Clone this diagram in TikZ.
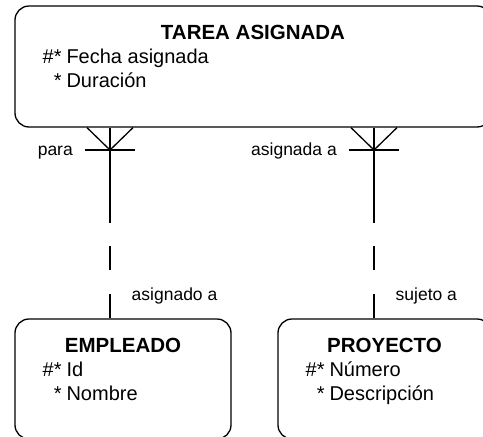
\documentclass[tikz,border=0pt]{standalone}
\usepackage{fontspec}
\setmainfont{Liberation Sans}
\usetikzlibrary{calc, positioning}
\newcommand{\attrline}[2]{\makebox[24pt][r]{#1}\hspace{5pt}#2}
\tikzset{
  entity/.style={
    draw,
    rectangle,
    rounded corners=14pt,
    line width=1.3pt
  },
  enttitle/.style={
    font=\fontsize{20.5}{24}\selectfont\bfseries,
    inner sep=0pt,
    anchor=base
  },
  attr/.style={
    font=\fontsize{20}{24}\selectfont,
    inner sep=0pt,
    anchor=base west
  },
  rlabel/.style={
    font=\fontsize{17.5}{20}\selectfont,
    inner sep=0pt
  },
  rel/.style={
    line width=1.3pt
  },
  optional/.style={
    rel,
    dash pattern=on 24pt off 24pt
  }
}

\begin{document}
\begin{tikzpicture}[x=1pt, y=-1pt]
  \useasboundingbox (0,0) rectangle (483,437);

  % entities
  \node[entity, minimum width=476pt, minimum height=121pt] (tarea) at (253,66.5) {};
  \node[entity, minimum width=216pt, minimum height=120pt] (empleado) at (123,379) {};
  \node[entity, minimum width=213pt, minimum height=120pt] (proyecto) at (384.5,379) {};

  \node[enttitle] (tarea-t) at ([yshift=-34.5pt]tarea.north) {TAREA ASIGNADA};
  \node[attr] (tarea-a1) at ([xshift=23pt,yshift=-58.5pt]tarea.north west) {\attrline{\#*}{Fecha asignada}};
  \node[attr] (tarea-a2) at ([xshift=23pt,yshift=-82.5pt]tarea.north west) {\attrline{*}{Duración}};

  \node[enttitle] (empleado-t) at ([yshift=-34.5pt]empleado.north) {EMPLEADO};
  \node[attr] (empleado-a1) at ([xshift=23pt,yshift=-58.5pt]empleado.north west) {\attrline{\#*}{Id}};
  \node[attr] (empleado-a2) at ([xshift=23pt,yshift=-82.5pt]empleado.north west) {\attrline{*}{Nombre}};

  \node[enttitle] (proyecto-t) at ([yshift=-34.5pt]proyecto.north) {PROYECTO};
  \node[attr] (proyecto-a1) at ([xshift=23pt,yshift=-58.5pt]proyecto.north west) {\attrline{\#*}{Número}};
  \node[attr] (proyecto-a2) at ([xshift=23pt,yshift=-82.5pt]proyecto.north west) {\attrline{*}{Descripción}};

  % relationships
  \coordinate (para) at (110,150);
  \coordinate (asig) at (374,150);

  \draw[rel] ($(para |- tarea.south)+(-23,0)$) -- (para) -- ($(para |- tarea.south)+(23,0)$);
  \draw[rel] ($(para)+(-25,0)$) -- ($(para)+(25,0)$);
  \fill (para) circle (1.6pt);
  \draw[rel] (para |- tarea.south) -- ($(para |- tarea.south)!.5!(para |- empleado.north)$);
  \draw[optional] (para |- empleado.north) -- ($(para |- tarea.south)!.5!(para |- empleado.north)$);
  \node[rlabel, anchor=base east] (para-l) at ($(para)+(-37,5)$) {para};
  \node[rlabel, anchor=base west] (asignado-l) at ($(para |- empleado.north)+(21.5,-18)$) {asignado a};

  \draw[rel] ($(asig |- tarea.south)+(-23,0)$) -- (asig) -- ($(asig |- tarea.south)+(23,0)$);
  \draw[rel] ($(asig)+(-25,0)$) -- ($(asig)+(25,0)$);
  \fill (asig) circle (1.6pt);
  \draw[rel] (asig |- tarea.south) -- ($(asig |- tarea.south)!.5!(asig |- proyecto.north)$);
  \draw[optional] (asig |- proyecto.north) -- ($(asig |- tarea.south)!.5!(asig |- proyecto.north)$);
  \node[rlabel, anchor=base east] (asig-l) at ($(asig)+(-37,5)$) {asignada a};
  \node[rlabel, anchor=base west] (sujeto-l) at ($(asig |- proyecto.north)+(21.5,-18)$) {sujeto a};
\end{tikzpicture}
\end{document}
